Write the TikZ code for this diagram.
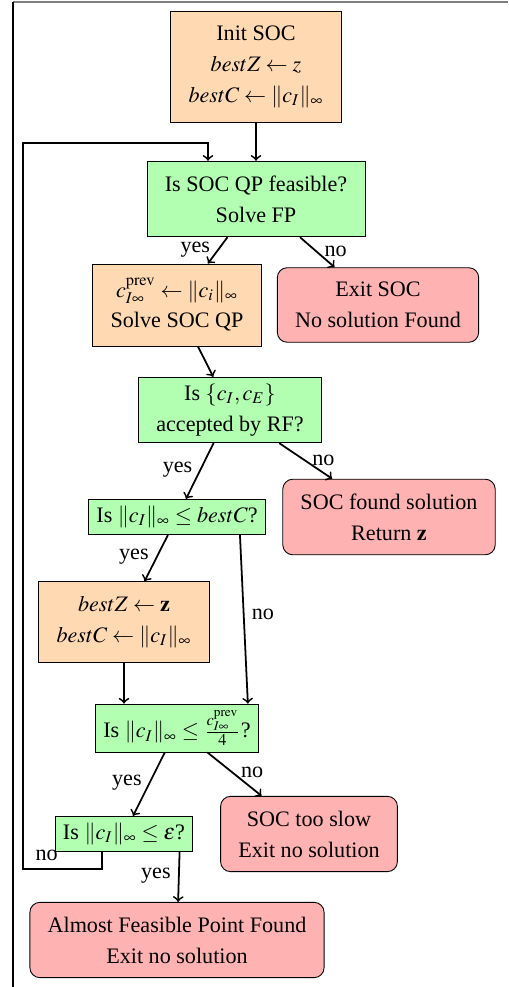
\documentclass[tikz,border=0pt]{standalone}
\usepackage{amsmath}
\usepackage{mathptmx}
\usepackage[no-math]{fontspec}
\setmainfont{Liberation Serif}
\usepackage{tikz}

\begin{document}
\begin{tikzpicture}[x=0.452pt, y=-0.452pt,
    box/.style={draw, align=center, inner xsep=8pt, inner ysep=6.5pt, font=\fontsize{10}{14}\selectfont},
    proc/.style={box, fill=orange!30},
    test/.style={box, fill=green!30},
    flat/.style={inner xsep=3.5pt, inner ysep=3pt},
    stopbox/.style={box, fill=red!30, rounded corners=4.5pt},
    flow/.style={->, thick},
    ylab/.style={left, pos=0.47},
    nlab/.style={right, pos=0.47}]
  \useasboundingbox (0,0) rectangle (508,987);
  % page frame
  \draw[black!50, line width=0.8pt] (13,2) -- (508,2);
  \draw[line width=0.6pt] (13,2) -- (13,987);

  \node[proc] (init) at (256,67) {Init SOC\\ $bestZ \leftarrow z$\\ $bestC \leftarrow \|c_I\|_\infty$};
  \node[test] (feas) at (256,199) {Is SOC QP feasible?\\ Solve FP};
  \node[proc] (qp) at (177,305) {$c_{I\infty}^{\mathrm{prev}} \leftarrow \|c_i\|_\infty$\\ Solve SOC QP};
  \node[stopbox] (nosol) at (378,305) {Exit SOC\\ No solution Found};
  \node[test, inner ysep=3pt] (rf) at (230,410) {Is $\{c_I, c_E\}$\\ accepted by RF?};
  \node[test, flat] (best) at (177,517) {Is $\|c_I\|_\infty \le bestC$?};
  \node[stopbox] (found) at (389,517) {SOC found solution\\ Return $\mathbf{z}$};
  \node[proc] (upd) at (124,622) {$bestZ \leftarrow \mathbf{z}$\\ $bestC \leftarrow \|c_I\|_\infty$};
  \node[test, flat] (prev) at (177,728) {Is $\|c_I\|_\infty \le \frac{c_{I\infty}^{\mathrm{prev}}}{4}$?};
  \node[stopbox] (slow) at (309,834) {SOC too slow\\ Exit no solution};
  \node[test, flat] (eps) at (124,834) {Is $\|c_I\|_\infty \le \varepsilon$?};
  \node[stopbox] (afp) at (177,940) {Almost Feasible Point Found\\ Exit no solution};

  \draw[flow] (init) -- (feas);
  \draw[flow] (feas) -- node[ylab] {yes} (qp);
  \draw[flow] (feas) -- node[nlab] {no} (nosol);
  \draw[flow] (qp) -- (rf);
  \draw[flow] (rf) -- node[ylab] {yes} (best);
  \draw[flow] (rf) -- node[nlab] {no} (found);
  \draw[flow] (best) -- node[ylab] {yes} (upd);
  \draw[flow] (best.-16) -- node[nlab] {no} (prev.19);
  \draw[flow] (upd) -- (upd |- prev.north);
  \draw[flow] (prev) -- node[ylab] {yes} (eps);
  \draw[flow] (prev) -- node[nlab] {no} (slow);
  \draw[flow] (eps.-18) -- node[ylab] {yes} (afp);

  % back to the feasibility test
  \coordinate (lowturn) at (23,869);
  \coordinate (highturn) at (23,143);
  \draw[flow] ([xshift=-10pt]eps.south) |- node[above, pos=0.85] {no} (lowturn)
    -- (highturn) -| ([xshift=-21.7pt]feas.north);
\end{tikzpicture}
\end{document}
